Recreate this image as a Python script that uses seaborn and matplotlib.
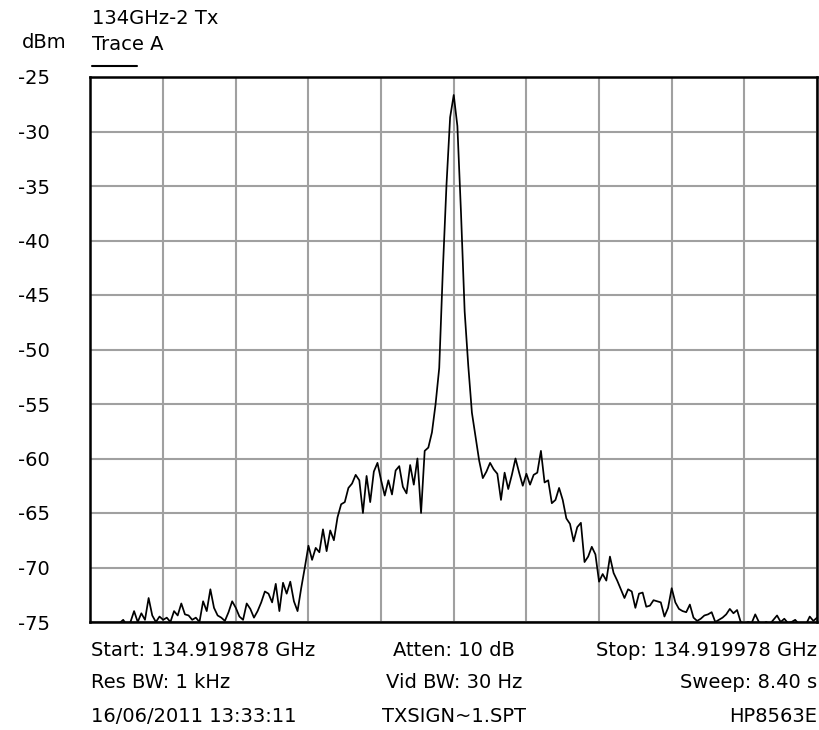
import numpy as np
import pandas as pd
import matplotlib
matplotlib.use("Agg")
import matplotlib.pyplot as plt
import seaborn as sns

# ---- data ----
title_text = "134GHz-2 Tx"
unit_text = "dBm"
trace_name = "Trace A"
span_khz = 100.0
y_ticks = [-25, -30, -35, -40, -45, -50, -55, -60, -65, -70, -75]
y_tick_labels = ["-25", "-30", "-35", "-40", "-45", "-50", "-55", "-60", "-65", "-70", "-75"]
footer_left = ["Start: 134.919878 GHz", "Res BW: 1 kHz", "16/06/2011 13:33:11"]
footer_center = ["Atten: 10 dB", "Vid BW: 30 Hz", "TXSIGN~1.SPT"]
footer_right = ["Stop: 134.919978 GHz", "Sweep: 8.40 s", "HP8563E"]

level_dbm = [
    -75.5, -75.5, -75.5, -75.5, -75.5, -75.5, -75.5, -75.3, -75.1, -74.8,
    -75.3, -75.0, -74.0, -75.0, -74.2, -74.8, -72.8, -74.4, -75.0, -74.5,
    -74.8, -74.6, -75.0, -74.0, -74.4, -73.3, -74.3, -74.4, -74.8, -74.6,
    -75.0, -73.1, -74.0, -72.0, -73.7, -74.4, -74.6, -74.9, -74.1, -73.1,
    -73.7, -74.5, -74.8, -73.3, -73.8, -74.6, -74.0, -73.2, -72.2, -72.4,
    -73.2, -71.5, -74.0, -71.4, -72.4, -71.3, -73.1, -74.0, -71.9, -70.0,
    -68.0, -69.3, -68.2, -68.6, -66.5, -68.5, -66.6, -67.5, -65.4, -64.2,
    -64.0, -62.7, -62.3, -61.5, -62.0, -65.0, -61.6, -64.0, -61.2, -60.4,
    -62.0, -63.4, -62.0, -63.3, -61.1, -60.7, -62.6, -63.2, -60.6, -62.4,
    -60.0, -65.0, -59.3, -59.0, -57.6, -55.0, -51.7, -42.7, -34.9, -28.7,
    -26.65, -29.5, -37.5, -46.5, -51.5, -55.8, -58.0, -60.2, -61.8, -61.2,
    -60.4, -61.0, -61.4, -63.8, -61.3, -62.8, -61.5, -60.0, -61.3, -62.5,
    -61.4, -62.4, -61.5, -61.3, -59.3, -62.2, -62.0, -64.1, -63.8, -62.7,
    -63.8, -65.5, -66.0, -67.6, -66.3, -65.9, -69.5, -69.0, -68.1, -68.8,
    -71.3, -70.6, -71.2, -69.0, -70.5, -71.2, -72.0, -72.8, -72.0, -72.2,
    -73.7, -72.4, -72.3, -73.6, -73.5, -73.0, -73.1, -73.2, -74.5, -73.7,
    -71.9, -73.2, -73.8, -74.0, -74.1, -73.4, -74.6, -74.9, -74.7, -74.4,
    -74.3, -74.1, -75.0, -74.8, -74.6, -74.3, -73.8, -74.2, -73.9, -75.0,
    -75.2, -75.0, -75.1, -74.3, -75.0, -75.2, -75.0, -75.2, -74.8, -74.4,
    -75.0, -74.7, -75.1, -75.0, -74.8, -75.2, -75.1, -75.2, -74.5, -74.9,
    -74.6,
]

freq_khz = np.linspace(0.0, span_khz, len(level_dbm))
df = pd.DataFrame({"freq": freq_khz, "level": level_dbm})

# ---- style ----
sns.set_style("white")
plt.rcParams["font.family"] = ["DejaVu Sans"]
plt.rcParams["axes.unicode_minus"] = False
plt.rcParams["text.color"] = "black"
plt.rcParams["ytick.color"] = "black"
plt.rcParams["xtick.color"] = "black"
FS = 14

fig = plt.figure(figsize=(8.2, 7.3), dpi=100)
W, H = 820.0, 730.0
x0, x1, y0, y1 = 90.5, 817.0, 77.0, 622.0
ax = fig.add_axes([x0 / W, 1 - y1 / H, (x1 - x0) / W, (y1 - y0) / H])

sns.lineplot(data=df, x="freq", y="level", ax=ax, color="black",
             linewidth=1.25, zorder=3)

ax.set_xlim(0, span_khz)
ax.set_ylim(-75, -25)
ax.set_xticks(np.arange(0, span_khz + 1, 10))
ax.set_xticklabels([])
ax.set_yticks(y_ticks)
ax.set_yticklabels(y_tick_labels, fontsize=FS, color="black")
ax.tick_params(axis="both", length=0)
ax.tick_params(axis="y", pad=29)
ax.grid(True, color="#a0a0a0", linewidth=1.5, zorder=0)
ax.set_axisbelow(True)
ax.set_xlabel("")
ax.set_ylabel("")
for s in ax.spines.values():
    s.set_visible(True)
    s.set_color("black")
    s.set_linewidth(1.8)
    s.set_zorder(4)

# ---- header texts ----
def px(x, y):
    return x / W, 1 - y / H

fig.text(*px(92, 18), title_text, fontsize=FS, ha="left", va="center", color="black")
fig.text(*px(22, 42), unit_text, fontsize=FS, ha="left", va="center", color="black")
fig.text(*px(92, 45), trace_name, fontsize=FS, ha="left", va="center", color="black")
fig.add_artist(plt.Line2D([92 / W, 137 / W], [1 - 66 / H, 1 - 66 / H],
                          color="black", linewidth=1.5))

# ---- footer texts ----
rows_y = [650, 683, 716]
for i, yy in enumerate(rows_y):
    fig.text(*px(91, yy), footer_left[i], fontsize=FS, ha="left", va="center", color="black")
    fig.text(*px(454, yy), footer_center[i], fontsize=FS, ha="center", va="center", color="black")
    fig.text(*px(817, yy), footer_right[i], fontsize=FS, ha="right", va="center", color="black")

fig.savefig("out.png", dpi=100)
